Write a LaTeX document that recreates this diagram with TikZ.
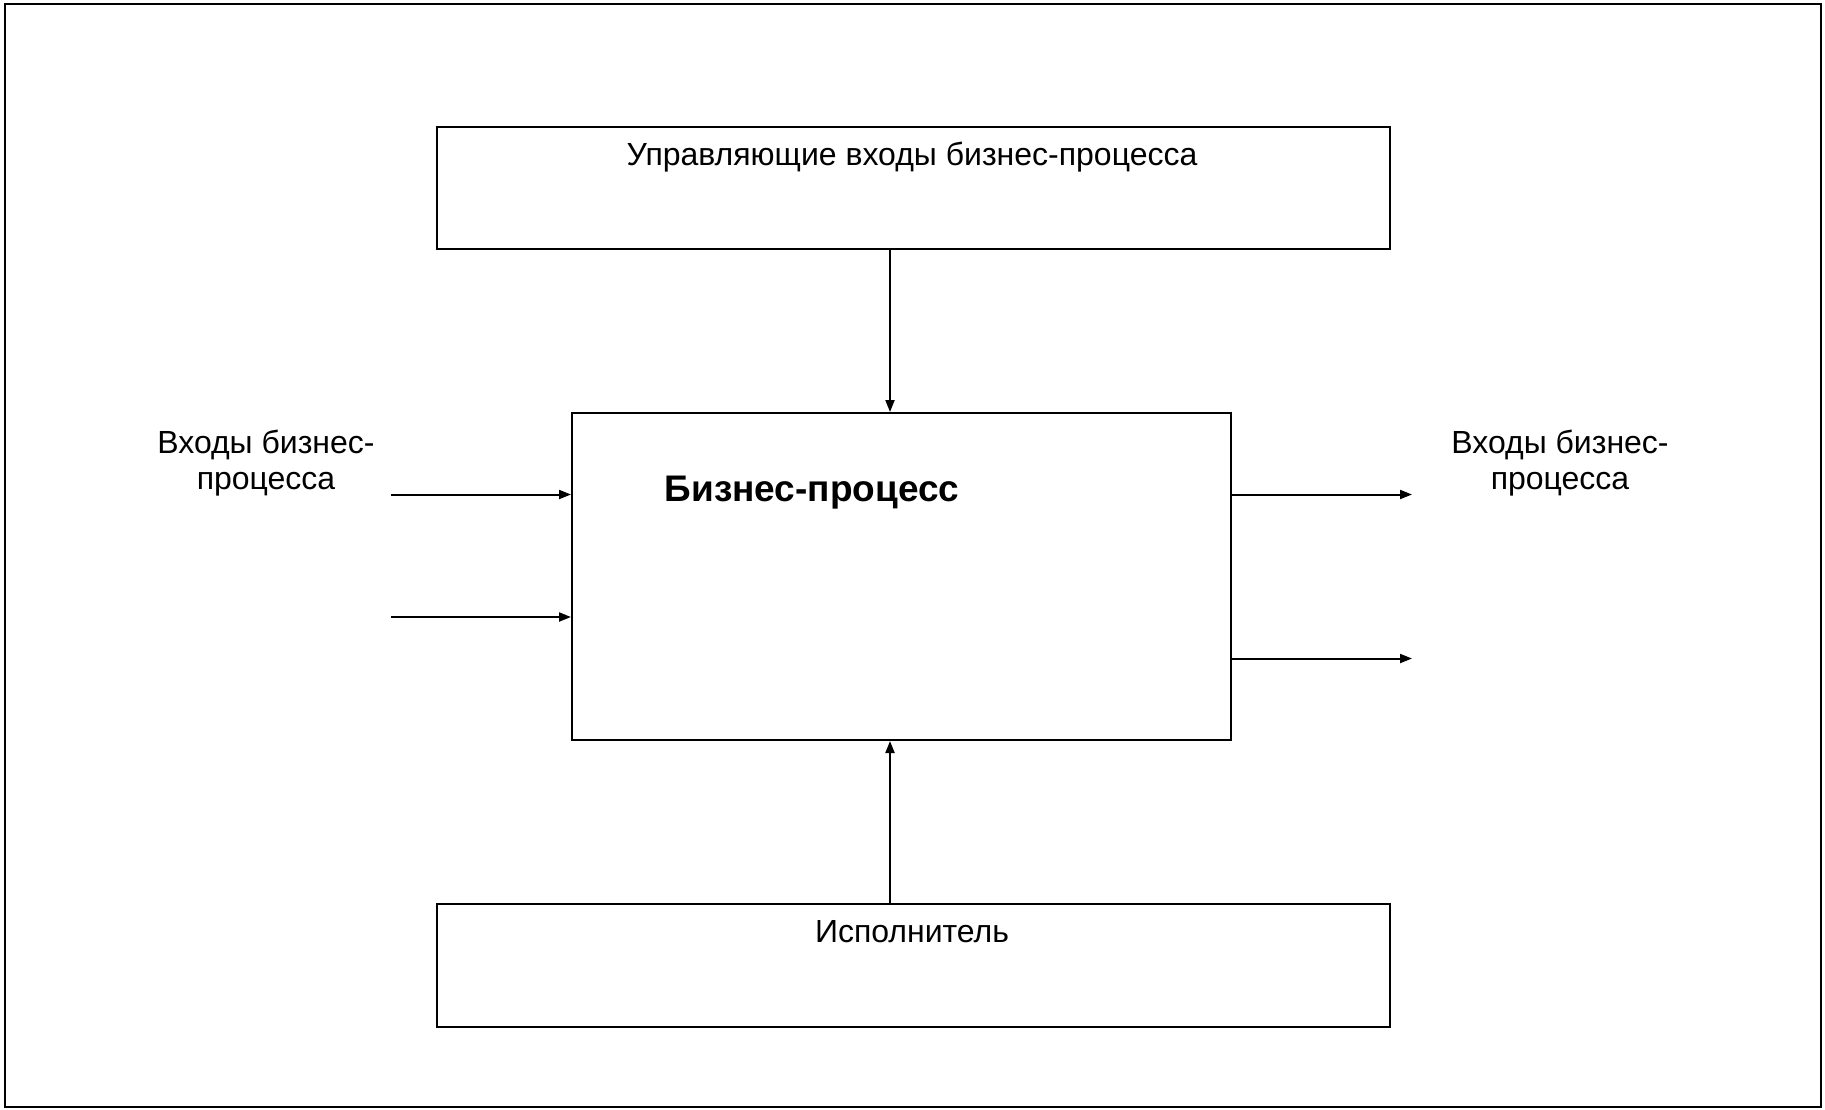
\documentclass[tikz,border=0pt]{standalone}
\usepackage{fontspec}
\setmainfont{Liberation Sans}
\usetikzlibrary{arrows.meta}
\begin{document}
\begin{tikzpicture}[x=1pt,y=-1pt,
  box/.style={draw,line width=2pt},
  conn/.style={line width=2pt,-{Triangle[length=12pt,width=9pt]}},
  lbl/.style={inner sep=0pt,font=\fontsize{32}{36}\selectfont,align=center}]
\useasboundingbox (0,0) rectangle (1825,1109);
\draw[line width=2.5pt] (5,4) rectangle (1821,1107);
\node[box,minimum width=953pt,minimum height=122pt,inner sep=0pt] (top) at (913,188) {};
\node[box,minimum width=659pt,minimum height=327pt,inner sep=0pt] (proc) at (901.5,576.5) {};
\node[box,minimum width=953pt,minimum height=123pt,inner sep=0pt] (bot) at (913,965) {};
\node[lbl] (toptext) at (912,157) {Управляющие входы бизнес-процесса};
\node[lbl] (bottext) at (912,932) {Исполнитель};
\node[lbl,font=\fontsize{37}{40}\selectfont\bfseries] (proctext) at (812,493) {Бизнес-процесс};
\node[lbl] (inlbl) at (266,463.5) {Входы бизнес-\\процесса};
\node[lbl] (outlbl) at (1560,463.5) {Входы бизнес-\\процесса};
\coordinate (in1) at (391,494.5);
\coordinate (in2) at (391,617);
\coordinate (out1) at (1412,494.5);
\coordinate (out2) at (1412,658.5);
\draw[conn] (in1) -- (in1 -| proc.west);
\draw[conn] (in2) -- (in2 -| proc.west);
\draw[conn] (out1 -| proc.east) -- (out1);
\draw[conn] (out2 -| proc.east) -- (out2);
\draw[conn] (top.south -| 890,0) -- (proc.north -| 890,0);
\draw[conn] (bot.north -| 890,0) -- (proc.south -| 890,0);
\end{tikzpicture}
\end{document}
